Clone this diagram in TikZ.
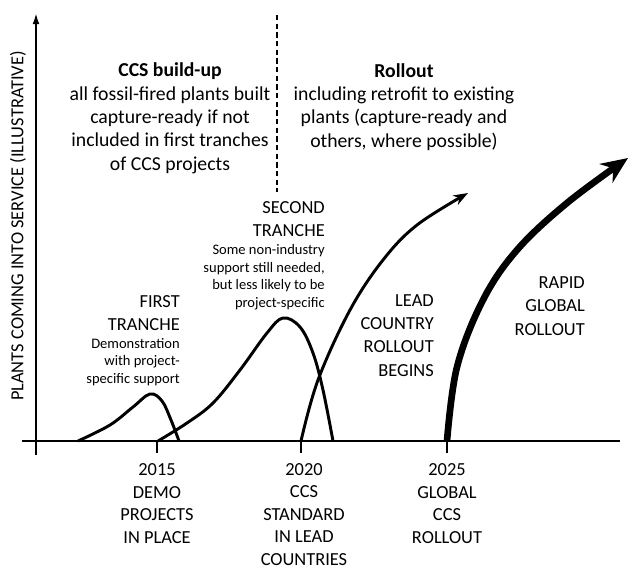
\documentclass[tikz,border=0pt]{standalone}
\usepackage{fontspec}
\setmainfont{Carlito}
\usepackage{tikz}
\usetikzlibrary{arrows.meta,positioning}

\tikzset{
    toptext/.style={font=\fontsize{14.8}{17.5}\selectfont, align=center, inner sep=0pt},
    caps/.style={font=\fontsize{13.8}{17}\selectfont, inner sep=0pt},
    note/.style={font=\fontsize{10.9}{13.1}\selectfont, align=right, inner sep=0pt},
    bump/.style={line width=2.2pt, line join=round},
    axis/.style={line width=2.2pt},
}

\begin{document}
\begin{tikzpicture}[x=0.75pt,y=-0.75pt]
        \useasboundingbox (0,0) rectangle (629,565);
        \coordinate (ybottom) at (36,455);
        \coordinate (ytop) at (36,12);
        \coordinate (xstart) at (22,441);
        \coordinate (xend) at (620,441);
        \draw[axis, -{Latex[length=9pt,width=5pt]}] (ybottom) -- (ytop);
        \draw[axis] (xstart) -- (xend);
        \draw[line width=1.1pt, dash pattern=on 4pt off 2.5pt] (277,15) coordinate (dtop) -- (277,192) coordinate (dbot);

        \node[caps, rotate=90] (ylabel) at (18,226) {PLANTS COMING INTO SERVICE (ILLUSTRATIVE)};

        \node[toptext, anchor=base] (buildup) at (170,170) {\textbf{CCS build-up}\\ all fossil-fired plants built\\ capture-ready if not\\ included in first tranches\\ of CCS projects};
        \node[toptext, anchor=base] (rollout) at (404,147) {\textbf{Rollout}\\ including retrofit to existing\\ plants (capture-ready and\\ others, where possible)};

        \foreach \xx/\name in {157/t2015, 301/t2020, 447/t2025}
            \draw[axis] (\xx,441) coordinate (\name) -- (\xx,453);

        \node[caps, align=center, anchor=base, font=\fontsize{13.8}{16.8}\selectfont] (l2015) at (157,543) {2015\\ DEMO\\ PROJECTS\\ IN PLACE};
        \node[caps, align=center, anchor=base, font=\fontsize{13.8}{16.8}\selectfont] (l2020) at (304,565) {2020\\ CCS\\ STANDARD\\ IN LEAD\\ COUNTRIES};
        \node[caps, align=center, anchor=base, font=\fontsize{13.8}{16.8}\selectfont] (l2025) at (447,543) {2025\\ GLOBAL\\ CCS\\ ROLLOUT};

        \draw[bump] plot[smooth, tension=0.6] coordinates {(78,441) (110,425) (133,407) (150,394) (162,401) (171,420) (179,441)};
        \draw[bump] plot[smooth, tension=0.6] coordinates {(158,441) (187,423) (213,403) (240,370) (267,333) (283,318) (300,327) (313,353) (323,390) (333,441)};
        \draw[bump, -{Stealth[length=11pt,width=8pt]}] plot[smooth, tension=0.6] coordinates {(301,441) (318,380) (350,310) (383,260) (417,225) (468,193)};
        \draw[line width=5pt, -{Stealth[length=20pt,width=17pt]}] plot[smooth, tension=0.6] coordinates {(447,441) (457,367) (483,300) (517,250) (567,203) (628,158)};

        \node[caps, align=right, anchor=base east] (first) at (180,330) {FIRST\\ TRANCHE};
        \node[note, anchor=base east] (firstnote) at (180,383) {Demonstration \\ with project-\\ specific support};
        \node[caps, align=right, anchor=base east] (second) at (325,236) {SECOND\\ TRANCHE};
        \node[note, anchor=base east] (secondnote) at (325,307) {Some non-industry\\ support still needed,\\ but less likely to be\\ project-specific};
        \node[caps, align=right, anchor=base east, font=\fontsize{13.8}{17.3}\selectfont] (lead) at (434,376) {LEAD\\ COUNTRY\\ ROLLOUT\\ BEGINS};
        \node[caps, align=right, anchor=base east, font=\fontsize{13.8}{17.5}\selectfont] (rapid) at (585,335) {RAPID\\ GLOBAL\\ ROLLOUT};
\end{tikzpicture}
\end{document}
